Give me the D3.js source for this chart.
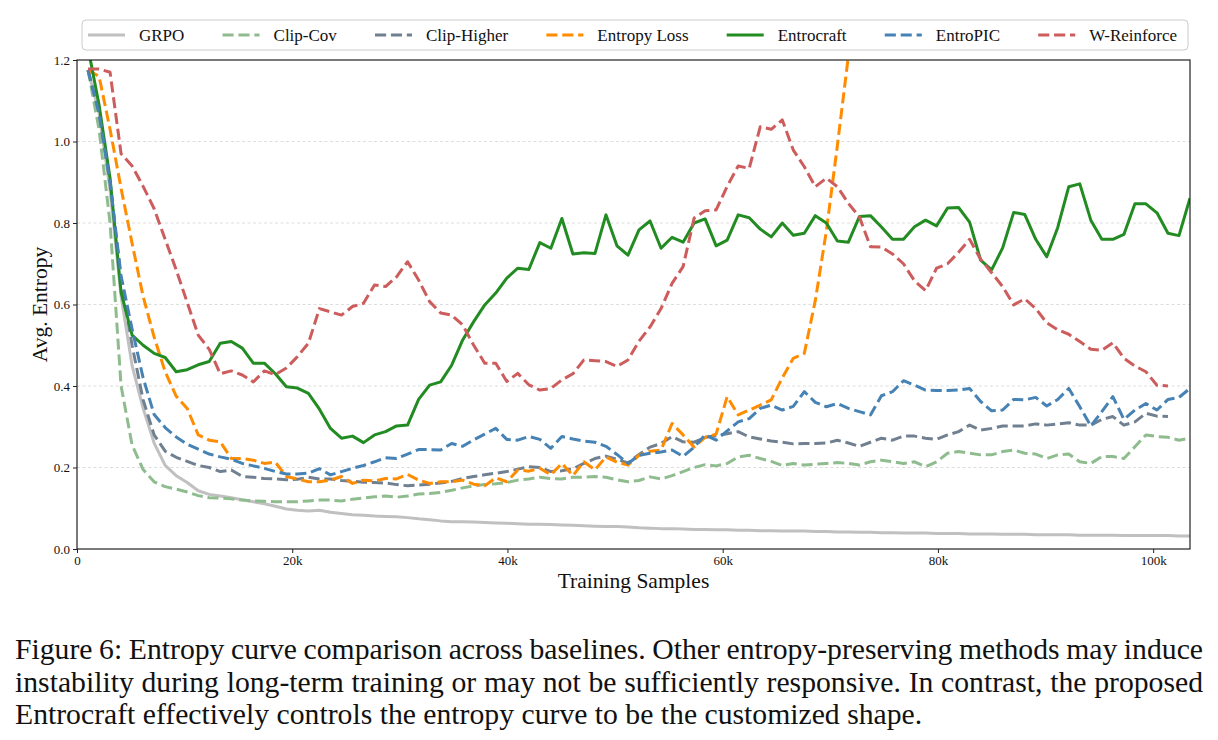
<!DOCTYPE html>
<html>
<head>
<meta charset="utf-8">
<script src="https://cdn.jsdelivr.net/npm/d3@7"></script>
<style>
  body { margin: 0; background: #fff; }
  svg { display: block; font-family: "Liberation Serif", "Times New Roman", serif; }
</style>
</head>
<body>
<script>
// one point every training step, 1024 samples per step
var sampleStep = 1024;
var lastStep = 101;

var seriesNames = ["GRPO", "Clip-Cov", "Clip-Higher", "Entropy Loss", "Entrocraft", "EntroPIC", "W-Reinforce"];
var seriesColors = ["#c0c0c0", "#8fbc8f", "#708090", "#ff8c00", "#228b22", "#4682b4", "#cd5c5c"];
var seriesDashed = [false, true, true, true, false, true, true];

var grpo = [1.175, 1.07, 0.88, 0.62, 0.45, 0.345, 0.26, 0.205, 0.18, 0.163, 0.143, 0.134, 0.13, 0.126, 0.121, 0.116, 0.111, 0.105, 0.098, 0.095, 0.093, 0.095,
  0.09, 0.087, 0.084, 0.083, 0.081, 0.08, 0.079, 0.077, 0.074, 0.072, 0.069, 0.067, 0.067, 0.066, 0.065, 0.064, 0.063, 0.062, 0.061, 0.061, 0.06, 0.059,
  0.058, 0.057, 0.056, 0.055, 0.055, 0.054, 0.052, 0.051, 0.05, 0.05, 0.049, 0.048, 0.048, 0.047, 0.047, 0.046, 0.046, 0.045, 0.045, 0.044, 0.044, 0.044,
  0.043, 0.043, 0.042, 0.042, 0.041, 0.041, 0.04, 0.04, 0.039, 0.039, 0.039, 0.038, 0.038, 0.038, 0.037, 0.037, 0.037, 0.036, 0.036, 0.036, 0.035, 0.035,
  0.035, 0.035, 0.034, 0.034, 0.034, 0.034, 0.033, 0.033, 0.033, 0.033, 0.033, 0.032, 0.032];

var clipCov = [1.175, 1.03, 0.8, 0.4, 0.255, 0.195, 0.165, 0.153, 0.147, 0.14, 0.131, 0.126, 0.125, 0.123, 0.12, 0.118, 0.117, 0.116, 0.116, 0.116, 0.118, 0.12,
  0.12, 0.118, 0.122, 0.125, 0.128, 0.13, 0.127, 0.13, 0.135, 0.136, 0.139, 0.144, 0.15, 0.155, 0.158, 0.16, 0.163, 0.169, 0.172, 0.176, 0.173, 0.172,
  0.176, 0.176, 0.178, 0.176, 0.17, 0.165, 0.168, 0.177, 0.172, 0.18, 0.19, 0.2, 0.207, 0.204, 0.21, 0.226, 0.23, 0.222, 0.215, 0.205, 0.21, 0.206,
  0.208, 0.21, 0.212, 0.21, 0.206, 0.214, 0.218, 0.214, 0.21, 0.214, 0.202, 0.214, 0.235, 0.239, 0.235, 0.231, 0.231, 0.239, 0.243, 0.235, 0.233, 0.222,
  0.231, 0.233, 0.214, 0.21, 0.227, 0.227, 0.222, 0.251, 0.28, 0.276, 0.274, 0.267, 0.272];

var clipHigher = [1.175, 1.07, 0.9, 0.66, 0.5, 0.366, 0.28, 0.24, 0.225, 0.215, 0.205, 0.2, 0.19, 0.194, 0.178, 0.176, 0.173, 0.172, 0.17, 0.171, 0.176, 0.172,
  0.172, 0.168, 0.166, 0.164, 0.163, 0.162, 0.158, 0.155, 0.157, 0.159, 0.162, 0.166, 0.173, 0.178, 0.182, 0.186, 0.19, 0.196, 0.202, 0.2, 0.19, 0.192,
  0.197, 0.21, 0.222, 0.228, 0.22, 0.211, 0.232, 0.25, 0.259, 0.276, 0.263, 0.262, 0.274, 0.278, 0.283, 0.288, 0.275, 0.27, 0.265, 0.262, 0.258, 0.259,
  0.259, 0.26, 0.267, 0.26, 0.252, 0.262, 0.272, 0.267, 0.277, 0.277, 0.272, 0.269, 0.28, 0.288, 0.304, 0.292, 0.296, 0.302, 0.302, 0.302, 0.307, 0.304,
  0.307, 0.31, 0.304, 0.304, 0.318, 0.325, 0.304, 0.312, 0.333, 0.326, 0.325];

var entropyLoss = [1.175, 1.16, 1.03, 0.885, 0.75, 0.62, 0.52, 0.435, 0.375, 0.345, 0.28, 0.267, 0.263, 0.222, 0.222, 0.218, 0.21, 0.213, 0.178, 0.172, 0.165, 0.165,
  0.169, 0.178, 0.161, 0.169, 0.167, 0.173, 0.172, 0.183, 0.169, 0.161, 0.165, 0.165, 0.169, 0.159, 0.155, 0.175, 0.165, 0.194, 0.191, 0.198, 0.182, 0.21,
  0.18, 0.214, 0.194, 0.226, 0.213, 0.206, 0.23, 0.24, 0.243, 0.308, 0.28, 0.25, 0.274, 0.282, 0.374, 0.329, 0.341, 0.353, 0.366, 0.42, 0.468, 0.48,
  0.61, 0.78, 0.99, 1.21, 1.5];

var entrocraft = [1.23, 1.09, 0.91, 0.63, 0.525, 0.5, 0.48, 0.47, 0.435, 0.44, 0.452, 0.46, 0.505, 0.509, 0.493, 0.456, 0.456, 0.43, 0.398, 0.395, 0.382, 0.343,
  0.296, 0.272, 0.277, 0.261, 0.28, 0.288, 0.302, 0.304, 0.367, 0.402, 0.41, 0.451, 0.513, 0.558, 0.599, 0.628, 0.665, 0.689, 0.686, 0.752, 0.738, 0.811,
  0.724, 0.727, 0.725, 0.82, 0.744, 0.721, 0.783, 0.805, 0.738, 0.765, 0.753, 0.8, 0.81, 0.744, 0.758, 0.82, 0.813, 0.785, 0.766, 0.8, 0.77, 0.775,
  0.818, 0.8, 0.756, 0.753, 0.816, 0.818, 0.79, 0.76, 0.76, 0.791, 0.807, 0.793, 0.837, 0.838, 0.802, 0.709, 0.685, 0.739, 0.826, 0.821, 0.76, 0.717,
  0.789, 0.889, 0.896, 0.807, 0.76, 0.76, 0.772, 0.847, 0.847, 0.825, 0.775, 0.769, 0.861];

var entroPIC = [1.175, 1.07, 0.9, 0.67, 0.54, 0.42, 0.33, 0.298, 0.275, 0.257, 0.245, 0.233, 0.226, 0.22, 0.21, 0.204, 0.198, 0.19, 0.184, 0.184, 0.186, 0.197,
  0.182, 0.19, 0.198, 0.205, 0.214, 0.224, 0.222, 0.233, 0.244, 0.244, 0.243, 0.259, 0.252, 0.268, 0.282, 0.296, 0.269, 0.267, 0.276, 0.269, 0.247, 0.276,
  0.27, 0.265, 0.262, 0.252, 0.232, 0.21, 0.23, 0.235, 0.238, 0.243, 0.227, 0.25, 0.28, 0.267, 0.29, 0.312, 0.32, 0.345, 0.353, 0.341, 0.35, 0.386,
  0.36, 0.349, 0.357, 0.345, 0.337, 0.329, 0.376, 0.386, 0.413, 0.402, 0.39, 0.389, 0.389, 0.39, 0.394, 0.362, 0.339, 0.341, 0.367, 0.366, 0.372, 0.351,
  0.367, 0.394, 0.349, 0.302, 0.337, 0.374, 0.318, 0.341, 0.357, 0.341, 0.367, 0.372, 0.394];

var wReinforce = [1.178, 1.178, 1.17, 0.97, 0.94, 0.89, 0.835, 0.76, 0.685, 0.605, 0.525, 0.49, 0.43, 0.437, 0.427, 0.41, 0.437, 0.428, 0.444, 0.472, 0.505, 0.59,
  0.582, 0.574, 0.595, 0.603, 0.648, 0.644, 0.668, 0.705, 0.66, 0.607, 0.579, 0.574, 0.55, 0.5, 0.456, 0.456, 0.411, 0.431, 0.403, 0.39, 0.394, 0.415,
  0.43, 0.464, 0.462, 0.46, 0.448, 0.464, 0.51, 0.545, 0.59, 0.652, 0.693, 0.812, 0.83, 0.832, 0.89, 0.94, 0.934, 1.036, 1.03, 1.053, 0.979, 0.938,
  0.889, 0.91, 0.889, 0.848, 0.815, 0.742, 0.741, 0.724, 0.7, 0.658, 0.634, 0.689, 0.7, 0.728, 0.76, 0.711, 0.678, 0.644, 0.599, 0.614, 0.59, 0.555,
  0.538, 0.527, 0.509, 0.49, 0.488, 0.506, 0.468, 0.449, 0.435, 0.402, 0.4];

var xTicks = [0, 20000, 40000, 60000, 80000, 100000];
var xTickLabels = ["0", "20k", "40k", "60k", "80k", "100k"];
var yTicks = [0, 0.2, 0.4, 0.6, 0.8, 1.0, 1.2];
var yTickLabels = ["0.0", "0.2", "0.4", "0.6", "0.8", "1.0", "1.2"];

var captionLines = [
  "Figure 6: Entropy curve comparison across baselines. Other entropy-preserving methods may induce",
  "instability during long-term training or may not be sufficiently responsive. In contrast, the proposed",
  "Entrocraft effectively controls the entropy curve to be the customized shape."
];

var allValues = [grpo, clipCov, clipHigher, entropyLoss, entrocraft, entroPIC, wReinforce];
var series = seriesNames.map(function(name, i) {
  return { name: name, color: seriesColors[i], dashed: seriesDashed[i], values: allValues[i] };
});

var w = 1218;
var h = 740;
var plot = { left: 77, right: 1190, top: 60, bottom: 549 };

var svg = d3.select("body")
  .append("svg")
  .attr("width", w)
  .attr("height", h);

svg.append("rect")
  .attr("width", w)
  .attr("height", h)
  .attr("fill", "white");

var x = d3.scaleLinear().domain([0, lastStep * sampleStep]).range([plot.left, plot.right]);
var y = d3.scaleLinear().domain([0, 1.2]).range([plot.bottom, plot.top]);

// horizontal grid
svg.append("g").selectAll("line")
  .data(yTicks.filter(function(d) { return d > 0 && d < 1.2; }))
  .enter().append("line")
  .attr("x1", plot.left)
  .attr("x2", plot.right)
  .attr("y1", function(d) { return y(d); })
  .attr("y2", function(d) { return y(d); })
  .attr("stroke", "#d4d4d4")
  .attr("stroke-width", 0.8)
  .attr("stroke-dasharray", "3,2.5");

svg.append("defs").append("clipPath").attr("id", "plotclip")
  .append("rect")
  .attr("x", plot.left)
  .attr("y", plot.top)
  .attr("width", plot.right - plot.left)
  .attr("height", plot.bottom - plot.top);

var line = d3.line()
  .x(function(d, i) { return x((i + 1) * sampleStep); })
  .y(function(d) { return y(d); });

svg.append("g")
  .attr("clip-path", "url(#plotclip)")
  .selectAll("path")
  .data(series)
  .enter().append("path")
  .attr("d", function(d) { return line(d.values); })
  .attr("fill", "none")
  .attr("stroke", function(d) { return d.color; })
  .attr("stroke-width", 3)
  .attr("stroke-linejoin", "round")
  .attr("stroke-dasharray", function(d) { return d.dashed ? "11.1,4.8" : null; });

// axes
var xAxis = d3.axisBottom(x)
  .tickValues(xTicks)
  .tickFormat(function(d, i) { return xTickLabels[i]; })
  .tickSize(4)
  .tickPadding(3);

var yAxis = d3.axisLeft(y)
  .tickValues(yTicks)
  .tickFormat(function(d, i) { return yTickLabels[i]; })
  .tickSize(4)
  .tickPadding(3);

var gx = svg.append("g").attr("transform", "translate(0," + plot.bottom + ")").call(xAxis);
var gy = svg.append("g").attr("transform", "translate(" + plot.left + ",0)").call(yAxis);

[gx, gy].forEach(function(g) {
  g.select(".domain").remove();
  g.selectAll("line").attr("stroke", "#222").attr("stroke-width", 1);
  g.selectAll("text")
    .attr("font-family", "Liberation Serif, Times New Roman, serif")
    .attr("font-size", 13)
    .attr("fill", "#111");
});

// frame
svg.append("rect")
  .attr("x", plot.left)
  .attr("y", plot.top)
  .attr("width", plot.right - plot.left)
  .attr("height", plot.bottom - plot.top)
  .attr("fill", "none")
  .attr("stroke", "#222")
  .attr("stroke-width", 1.2);

svg.append("text")
  .attr("x", (plot.left + plot.right) / 2)
  .attr("y", 588)
  .attr("text-anchor", "middle")
  .attr("font-size", 21.5)
  .attr("fill", "#111")
  .text("Training Samples");

svg.append("text")
  .attr("transform", "translate(47," + (plot.top + plot.bottom) / 2 + ") rotate(-90)")
  .attr("text-anchor", "middle")
  .attr("font-size", 21.5)
  .attr("fill", "#111")
  .text("Avg. Entropy");

// legend
var legendBox = { left: 82, right: 1188, top: 20, bottom: 50 };
var legend = svg.append("g");
legend.append("rect")
  .attr("x", legendBox.left)
  .attr("y", legendBox.top)
  .attr("width", legendBox.right - legendBox.left)
  .attr("height", legendBox.bottom - legendBox.top)
  .attr("rx", 4)
  .attr("fill", "white")
  .attr("fill-opacity", 0.8)
  .attr("stroke", "#cccccc")
  .attr("stroke-width", 1);

var items = legend.selectAll("g.item").data(series).enter().append("g").attr("class", "item");
items.append("line")
  .attr("x1", 0).attr("x2", 37)
  .attr("y1", 35).attr("y2", 35)
  .attr("stroke", function(d) { return d.color; })
  .attr("stroke-width", 3)
  .attr("stroke-dasharray", function(d) { return d.dashed ? "11.1,4.8" : null; });
items.append("text")
  .attr("x", 51)
  .attr("y", 41)
  .attr("font-size", 17)
  .attr("fill", "#111")
  .text(function(d) { return d.name; });

var textW = [];
items.select("text").each(function() { textW.push(this.getComputedTextLength()); });
var legStart = 88, legEnd = 1177;
var used = d3.sum(textW) + 51 * series.length;
var colGap = (legEnd - legStart - used) / (series.length - 1);
var cx = legStart;
items.attr("transform", function(d, i) {
  var t = "translate(" + cx + ",0)";
  cx += 51 + textW[i] + colGap;
  return t;
});

// caption, first two lines justified
var capLeft = 15, capRight = 1203;
var capBase = [659, 692, 724];
var capSize = 29.7;
captionLines.forEach(function(txt, li) {
  var words = txt.split(" ");
  var nodes = words.map(function(wd) {
    return svg.append("text")
      .attr("y", capBase[li])
      .attr("font-size", capSize)
      .attr("fill", "#111")
      .text(wd);
  });
  var widths = nodes.map(function(n) { return n.node().getComputedTextLength(); });
  var space = li < 2 ? (capRight - capLeft - d3.sum(widths)) / (words.length - 1) : capSize * 0.25;
  var px = capLeft;
  nodes.forEach(function(n, i) {
    n.attr("x", px);
    px += widths[i] + space;
  });
});
</script>
</body>
</html>
